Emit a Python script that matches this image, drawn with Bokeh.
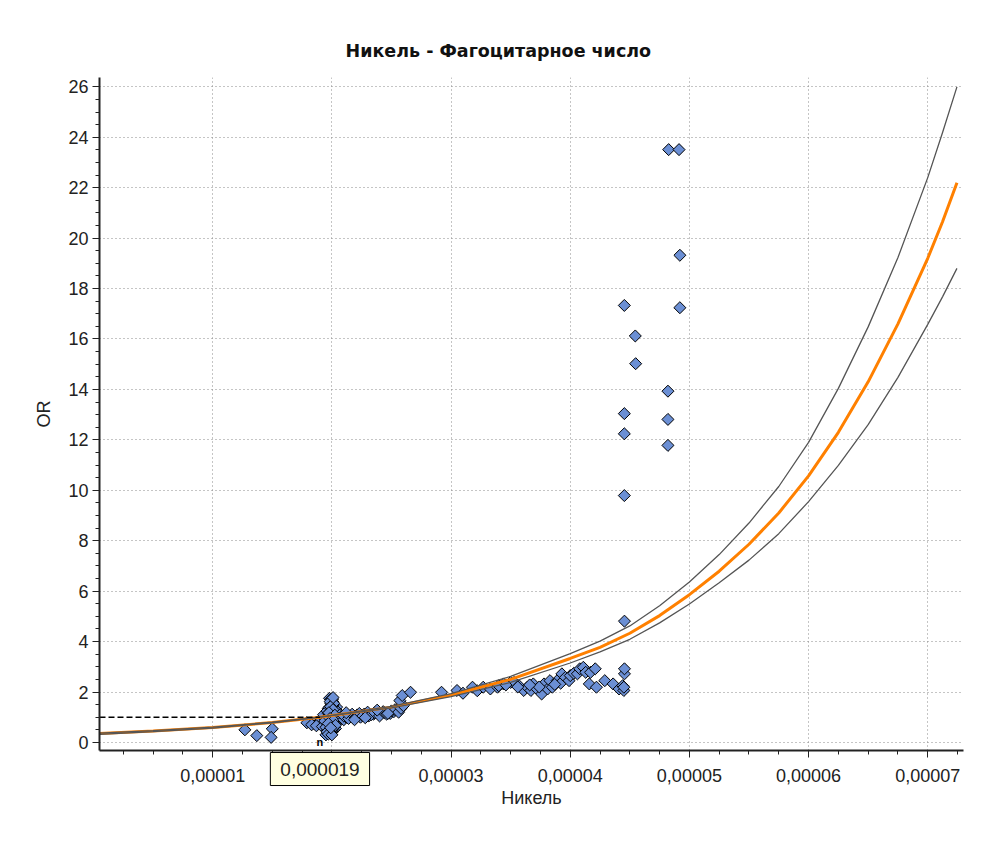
import math
from bokeh.plotting import figure
from bokeh.models import Range1d, SingleIntervalTicker, CustomJSTickFormatter, Label
from bokeh.core.properties import value
from bokeh.embed import file_html
from bokeh.resources import INLINE

# ---- data (nickel in units of 1e-5) ----
pts_x_e5 = [1.27, 1.37, 1.50, 1.49, 1.79, 1.85, 1.89, 1.83, 1.87, 1.92, 1.96, 1.95, 1.97,
            1.98, 2.00, 1.99, 2.01, 1.97, 2.02, 1.98, 2.03, 1.96, 2.00, 2.04, 1.98, 2.02, 1.97,
            2.01, 1.99, 2.03, 1.98, 2.00, 2.05, 2.06, 2.08, 1.94, 1.93, 2.01, 1.99, 2.00, 1.96, 2.04,
            1.95, 1.96, 1.97, 1.98, 1.99, 2.00, 2.01, 2.02, 2.03, 2.04, 2.05, 2.06, 2.07, 2.03,
            2.02, 2.01, 2.00, 1.995, 2.005, 1.98, 1.97, 1.96, 1.94, 1.95, 1.96, 1.97, 2.00,
            1.985, 2.015, 1.99, 2.01, 1.975, 2.025, 1.985, 2.015, 1.97, 2.03, 1.99, 2.01,
            2.09, 2.10, 2.12, 2.15, 2.18, 2.21, 2.24, 2.27, 2.31, 2.35, 2.39, 2.44, 2.49, 2.52, 2.55,
            2.10, 2.14, 2.17, 2.20, 2.23, 2.26, 2.30, 2.33, 2.36, 2.40, 2.43, 2.46, 2.50, 2.53,
            2.56, 2.58, 2.60, 2.57, 2.59, 2.66, 2.47, 2.38, 2.28, 2.12, 2.19,
            2.92, 3.05, 3.18, 3.10, 3.22, 3.27, 3.33, 3.39, 3.44, 3.50, 3.53, 3.57, 3.61, 3.64,
            3.67, 3.69, 3.72, 3.76, 3.78, 3.81, 3.83, 3.85, 3.89, 3.92, 3.93, 3.96, 3.99, 4.00,
            4.03, 4.06, 4.08, 4.11, 4.13, 4.16, 4.17, 4.21, 4.22, 4.29, 3.40, 3.46, 3.56, 3.74,
            3.87, 3.66,
            4.36, 4.41, 4.44, 4.45, 4.45, 4.455, 4.455, 4.455, 4.454, 4.454, 4.454, 4.454,
            4.546, 4.549,
            4.82, 4.82, 4.82, 4.826, 4.913, 4.92, 4.92]
pts_or = [0.50, 0.27, 0.54, 0.20, 0.78, 0.76, 0.80, 0.70, 0.66, 0.63, 0.47, 0.30, 0.38,
          1.75, 1.65, 1.55, 1.45, 1.35, 1.30, 1.20, 1.15, 1.05, 1.00, 0.95, 0.90, 0.85, 0.80,
          0.70, 0.60, 0.55, 0.45, 0.40, 1.10, 0.90, 1.05, 0.95, 1.10, 1.60, 1.70, 1.50, 1.25, 1.40,
          0.85, 0.75, 0.65, 0.55, 0.50, 0.45, 0.52, 0.62, 0.72, 0.82, 0.92, 1.02, 1.12, 1.25,
          1.35, 1.48, 1.58, 1.68, 1.72, 1.40, 1.15, 0.98, 0.85, 0.60, 0.42, 0.33, 0.30,
          1.62, 1.55, 1.42, 1.30, 1.18, 1.08, 0.95, 0.88, 0.75, 0.68, 0.58, 1.78,
          1.00, 0.90, 1.00, 1.05, 1.00, 1.08, 1.00, 1.12, 1.05, 1.12, 1.15, 1.18, 1.15, 1.22, 1.30,
          1.05, 0.95, 1.12, 1.00, 1.15, 1.05, 1.20, 1.10, 1.18, 1.05, 1.22, 1.12, 1.25, 1.30,
          1.20, 1.35, 1.46, 1.66, 1.86, 1.99, 1.15, 1.28, 0.98, 1.18, 0.90,
          1.99, 2.06, 2.19, 1.95, 2.05, 2.19, 2.12, 2.19, 2.32, 2.38, 2.38, 2.25, 2.06, 2.19,
          2.06, 2.32, 2.12, 1.92, 2.32, 2.12, 2.45, 2.19, 2.45, 2.35, 2.72, 2.58, 2.45, 2.65,
          2.74, 2.72, 2.92, 2.98, 2.78, 2.32, 2.78, 2.92, 2.19, 2.45, 2.25, 2.28, 2.20, 2.20,
          2.30, 2.28,
          2.32, 2.12, 2.25, 2.06, 2.19, 2.72, 2.92, 4.81, 9.79, 12.24, 13.04, 17.33,
          16.12, 15.02,
          11.78, 12.81, 13.93, 23.51, 23.51, 19.32, 17.24]

curve_x_e5 = [0.05, 0.5, 1.0, 1.5, 1.9, 2.5, 3.0, 3.5, 4.0, 4.25, 4.5, 4.75, 5.0, 5.25, 5.5,
              5.75, 6.0, 6.25, 6.5, 6.75, 7.0, 7.125, 7.245]
or_fit = [0.35, 0.45, 0.59, 0.79, 1.0, 1.40, 1.88, 2.50, 3.33, 3.77, 4.33, 5.03, 5.86, 6.79,
          7.86, 9.1, 10.57, 12.3, 14.3, 16.6, 19.2, 20.66, 22.2]
or_upper = [0.37, 0.47, 0.61, 0.80, 1.0, 1.43, 1.94, 2.62, 3.52, 4.02, 4.62, 5.42, 6.36, 7.45,
            8.7, 10.15, 11.9, 14.04, 16.48, 19.23, 22.4, 24.2, 26.0]
or_lower = [0.32, 0.43, 0.57, 0.78, 1.0, 1.37, 1.82, 2.38, 3.15, 3.59, 4.09, 4.74, 5.49, 6.33,
            7.23, 8.28, 9.55, 10.99, 12.6, 14.48, 16.58, 17.68, 18.8]

ref_x_e5 = 1.9          # reference point 0,000019
ref_or = 1.0
x_start_e5 = 0.05
x_end_e5 = 7.3

E5 = 1e-5
pts_x = [v * E5 for v in pts_x_e5]
curve_x = [v * E5 for v in curve_x_e5]
ref_x = ref_x_e5 * E5

FONT = "Liberation Sans"

p = figure(width=985, height=843, output_backend="svg", toolbar_location=None,
           x_range=Range1d(x_start_e5 * E5, x_end_e5 * E5), y_range=Range1d(-0.32, 26.37),
           min_border_left=99, min_border_right=22, min_border_top=77, min_border_bottom=93,
           background_fill_color="white", border_fill_color="white")
p.outline_line_color = None

p.title.text = "Никель - Фагоцитарное число"
p.title.text_font = "DejaVu Sans"
p.title.text_font_size = "17.5px"
p.title.text_font_style = "bold"
p.title.text_color = "#111111"
p.title.align = "left"
p.title.offset = 246
p.title.standoff = 34

# axes
p.xaxis.ticker = SingleIntervalTicker(interval=1e-5, num_minor_ticks=4)
p.yaxis.ticker = SingleIntervalTicker(interval=2, num_minor_ticks=4)
p.xaxis.formatter = CustomJSTickFormatter(code="return tick.toFixed(5).replace('.', ',');")
p.xaxis.axis_label = "Никель"
p.yaxis.axis_label = "OR"
for ax in (p.xaxis, p.yaxis):
    ax.axis_line_color = "#222222"
    ax.axis_line_width = 2
    ax.major_tick_line_color = "#222222"
    ax.minor_tick_line_color = "#222222"
    ax.major_tick_out = 7
    ax.major_tick_in = 0
    ax.minor_tick_out = 4
    ax.minor_tick_in = 0
    ax.major_label_text_font = FONT
    ax.major_label_text_font_size = "18px"
    ax.major_label_text_color = "#222222"
    ax.axis_label_text_font = FONT
    ax.axis_label_text_font_size = "18px"
    ax.axis_label_text_font_style = "normal"
    ax.axis_label_text_color = "#222222"
p.xaxis.major_label_standoff = 11
p.xaxis.axis_label_standoff = 3
p.xaxis.axis_label_text_baseline = "middle"
p.yaxis.major_label_standoff = 4
p.yaxis.axis_label_standoff = 11

for g in (p.xgrid, p.ygrid):
    g.grid_line_color = "#8a8a8a"
    g.grid_line_dash = "1 3"
    g.grid_line_width = 1

# scatter points (diamonds)
p.scatter(pts_x, pts_or, marker="square", angle=math.pi / 4, size=8.5,
          fill_color="#6b8fd4", line_color="black", line_width=1)

# fitted curve and confidence band
p.line(curve_x, or_fit, line_color="#ff8000", line_width=3)
p.line(curve_x, or_upper, line_color="#555555", line_width=1.3)
p.line(curve_x, or_lower, line_color="#555555", line_width=1.3)

# reference dashed line OR = 1
p.line([x_start_e5 * E5, ref_x], [ref_or, ref_or], line_color="black",
       line_dash="6 3", line_width=1.5)

# small marker on axis at reference point
p.text(x=[ref_x], y=[0.0], text=["n"], text_font=value(FONT), text_font_size="11px",
       text_font_style="bold", text_align="center", text_baseline="middle",
       text_color="black")

# tooltip-like value box (in a side panel so it is not clipped to the frame)
lab = Label(x=ref_x, y=-0.4, text="0,000019", text_font=FONT, text_font_size="19px",
            text_align="center", text_baseline="top", text_color="#222222",
            background_fill_color="#ffffe1", background_fill_alpha=1.0,
            border_line_color="black", border_line_width=1, padding=10)
p.add_layout(lab, "below")

open("out.html", "w").write(file_html(p, INLINE))
